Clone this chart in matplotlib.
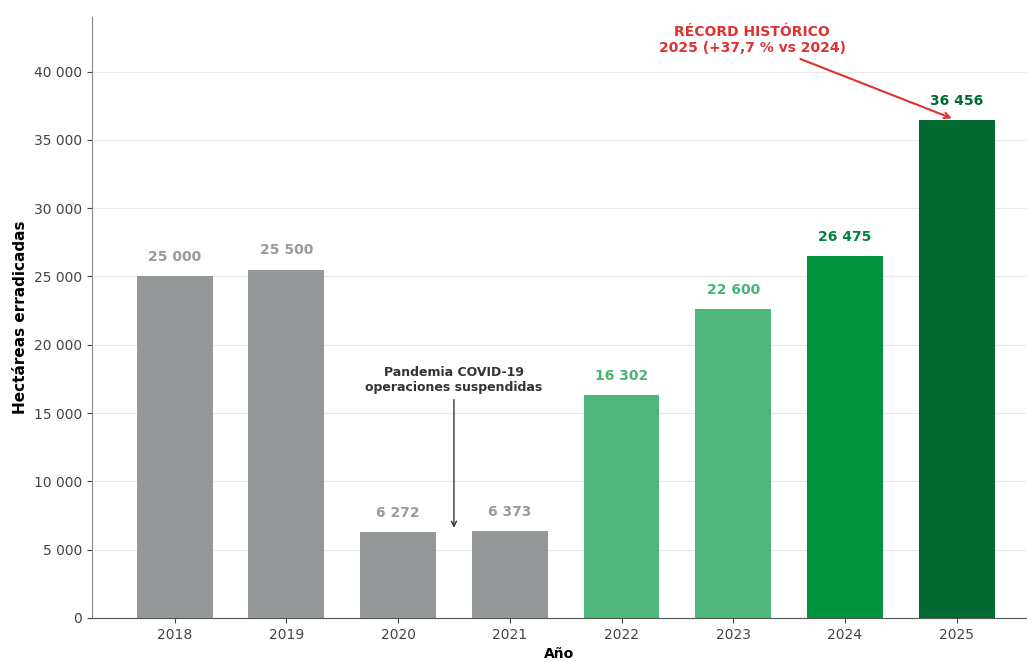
import matplotlib
matplotlib.use("Agg")
import matplotlib.pyplot as plt
from matplotlib.ticker import FuncFormatter

# datos
years = ["2018", "2019", "2020", "2021", "2022", "2023", "2024", "2025"]
hectares = [25000, 25500, 6272, 6373, 16302, 22600, 26475, 36456]
bar_colors = ["#959898", "#959898", "#959898", "#959898",
              "#4db67a", "#4db67a", "#00943f", "#006a31"]
label_colors = ["#9a9a9a", "#9a9a9a", "#9a9a9a", "#9a9a9a",
                "#47b574", "#47b574", "#00843a", "#006a31"]

fig = plt.figure(figsize=(10.27, 6.62), dpi=100)
ax = fig.add_axes([0.0896, 0.0665, 0.9104, 0.908])

x = range(len(years))
ax.bar(x, hectares, width=0.68, color=bar_colors, zorder=2)

for xi, v, c in zip(x, hectares, label_colors):
    ax.text(xi, v + 900, f"{v:,}".replace(",", " "), ha="center", va="bottom",
            fontsize=10, fontweight="bold", color=c)

ax.set_xlim(-0.74, 7.63)
ax.set_ylim(0, 44000)
ax.set_xticks(list(x))
ax.set_xticklabels(years)
ax.set_yticks(range(0, 40001, 5000))
ax.yaxis.set_major_formatter(FuncFormatter(lambda v, p: f"{int(v):,}".replace(",", " ")))
ax.tick_params(colors="#444444", labelsize=10)

ax.grid(axis="y", color="#e8e8e8", linewidth=0.8, zorder=0)
ax.set_axisbelow(True)
for s in ["top", "right"]:
    ax.spines[s].set_visible(False)
ax.spines["left"].set_color("#888888")
ax.spines["bottom"].set_color("#555555")

ax.set_ylabel("Hectáreas erradicadas", fontsize=11, fontweight="bold")
ax.set_xlabel("Año", fontsize=10, fontweight="bold", labelpad=4)

# anotación COVID
ax.annotate("Pandemia COVID-19\noperaciones suspendidas",
            xy=(2.5, 6400), xytext=(2.5, 17400),
            ha="center", va="center", fontsize=9, fontweight="bold", color="#333333",
            arrowprops=dict(arrowstyle="->", color="#333333", lw=1.0),
            bbox=dict(boxstyle="round,pad=0.2", fc="white", ec="none", alpha=0.85))

# anotación récord
ax.annotate("RÉCORD HISTÓRICO\n2025 (+37,7 % vs 2024)",
            xy=(6.98, 36500), xytext=(5.17, 42300),
            ha="center", va="center", fontsize=10, fontweight="bold", color="#e03030",
            arrowprops=dict(arrowstyle="->", color="#e03030", lw=1.5),
            bbox=dict(boxstyle="round,pad=0.2", fc="white", ec="none", alpha=0.85))

fig.savefig("out.png", dpi=100)
